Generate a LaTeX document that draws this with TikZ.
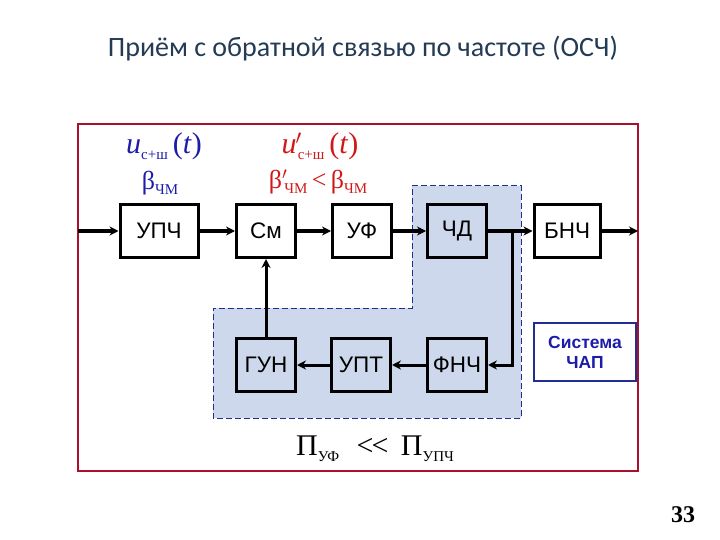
\documentclass[tikz,border=0pt]{standalone}
\usepackage{fontspec}
\setmainfont{Liberation Serif}
\newfontfamily\arialfont{Liberation Sans}
\newfontfamily\slidefont{Carlito}
\usetikzlibrary{arrows.meta,positioning}
\definecolor{framered}{HTML}{A8102C}
\definecolor{loopbg}{HTML}{CDD8EC}
\definecolor{loopbd}{HTML}{1F2F8F}
\definecolor{sigblue}{HTML}{1C1CA8}
\definecolor{sigred}{HTML}{D01818}
\definecolor{titleink}{HTML}{243B55}
\newcommand{\lowidx}[1]{\raisebox{-0.45ex}{\fontsize{15}{15}\selectfont #1}}
\newcommand{\bigsym}{\fontsize{30}{32}\selectfont}
\tikzset{
  block/.style={draw=black,line width=3pt,minimum width=59pt,
                minimum height=53pt,inner sep=0pt,
                font=\arialfont\fontsize{22.5}{24}\selectfont},
  wire/.style={line width=3pt},
  feed/.style={wire,-{Stealth[length=9pt,width=9pt]}},
  chapnote/.style={draw=loopbd,line width=1.5pt,minimum width=102pt,
                   minimum height=58pt,align=center,text=sigblue,
                   font=\arialfont\bfseries\fontsize{17.5}{20}\selectfont},
}
\begin{document}
\begin{tikzpicture}[x=1pt,y=-1pt]
  \useasboundingbox (0,0) rectangle (720,540);
  % title and slide number
  \node[font=\slidefont\fontsize{28}{30}\selectfont,text=titleink] (title)
    at (363,49) {Приём с обратной связью по частоте (ОСЧ)};
  \node[font=\bfseries\fontsize{24}{26}\selectfont] (page) at (683,515) {33};
  % red frame
  \draw[framered,line width=2.8pt] (78,124) rectangle (638,471);
  % dashed loop region
  \draw[loopbd,fill=loopbg,line width=1pt,dash pattern=on 6pt off 3pt]
    (412,186) -- (521,186) -- (521,418) -- (213,418) -- (213,308)
    -- (412,308) -- cycle;
  % upper chain
  \node[block] (upch) at (159,231) [minimum width=78pt] {УПЧ};
  \node[block] (sm) at (266,231) {См};
  \node[block] (uf) at (362,231) {УФ};
  \node[block,fill=loopbg] (chd) at (457,231) {ЧД};
  \node[block] (bnch) at (567,231) [minimum width=66pt] {БНЧ};
  % loop chain
  \node[block,fill=loopbg] (gun) at (266,365) {ГУН};
  \node[block,fill=loopbg] (upt) at (361,365) {УПТ};
  \node[block,fill=loopbg] (fnch) at (457,365) {ФНЧ};
  \node[chapnote] (chap) at (585,352) {Система\\ЧАП};
  \coordinate (in) at (78,231);
  \coordinate (out) at (638,231);
  \coordinate (tap) at (512,231);
  \draw[feed] (in) -- (upch);
  \draw[feed] (upch) -- (sm);
  \draw[feed] (sm) -- (uf);
  \draw[feed] (uf) -- (chd);
  \draw[feed] (chd) -- (bnch);
  \draw[feed] (bnch) -- (out);
  \draw[feed] (tap) |- (fnch.east);
  \draw[feed] (fnch) -- (upt);
  \draw[feed] (upt) -- (gun);
  \draw[feed] (gun) -- (sm);
  % signal labels
  \node[text=sigblue] (uin) at (164,146)
    {\bigsym\textit{u}\lowidx{с+ш}\,(\textit{t})};
  \node[text=sigblue] (bin) at (160,183)
    {\fontsize{26}{28}\selectfont β\lowidx{ЧМ}};
  \node[text=sigred] (uuf) at (320,146)
    {\bigsym\textit{u}\kern-1pt$'$\kern-4pt\lowidx{с+ш}\,(\textit{t})};
  \node[text=sigred] (buf) at (318,182)
    {\fontsize{26}{28}\selectfont β$'$\kern-3pt\lowidx{ЧМ}\,<\,β\lowidx{ЧМ}};
  \node (band) at (375,449)
    {\bigsym Π\lowidx{УФ}\,\, <\kern-2pt<\, Π\lowidx{УПЧ}};
\end{tikzpicture}
\end{document}
